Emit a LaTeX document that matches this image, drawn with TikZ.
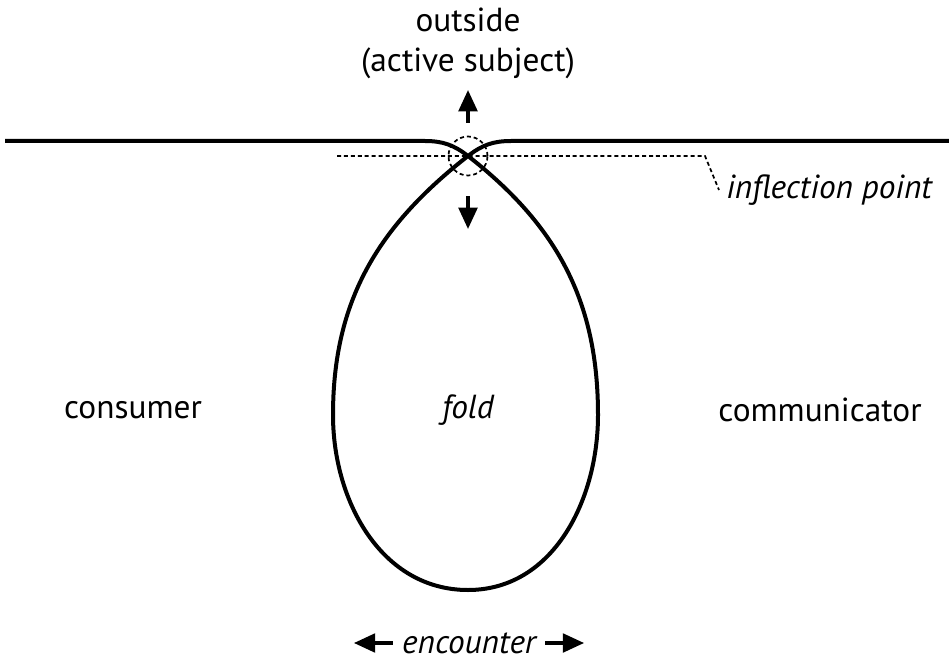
\documentclass[tikz,border=0pt]{standalone}
\usepackage{fontspec}
\setmainfont{PT Sans}
\usetikzlibrary{arrows.meta}
\tikzset{
  lbl/.style={inner sep=0pt, font=\fontsize{25}{30}\selectfont},
  fold line/.style={line width=3pt, line join=round},
  guide/.style={line width=1.3pt, dash pattern=on 3pt off 2.2pt},
  dirarrow/.style={line width=2.6pt, -{Stealth[length=16pt,width=14pt,inset=0pt]}}
}
\begin{document}
\begin{tikzpicture}[x=0.75pt,y=0.75pt]
				\useasboundingbox (0,0) rectangle (949,-663);
				\path
				(5,-141) coordinate (L)
				(949,-141) coordinate (R)
				(468,-156) coordinate (X)
				(337,-156) coordinate (G1)
				(705,-156) coordinate (G2)
				(719,-190) coordinate (G3)
				(468,-123) coordinate (U1)
				(468,-90) coordinate (U2)
				(468,-196) coordinate (D1)
				(468,-229) coordinate (D2);
				\node[lbl] (outside) at (468,-20) {outside};
				\node[lbl] (active) at (468,-63) {(active subject)};
				\node[lbl] (consumer) at (133,-410) {consumer};
				\node[lbl] (fold) at (468,-410) {\itshape fold};
				\node[lbl] (communicator) at (820,-410) {communicator};
				\node[lbl, anchor=west] (inflection) at (726,-190) {\itshape inflection point};
				\node[lbl] (encounter) at (469,-643) {\itshape encounter};
				% the fold
				\draw[fold line] (L) -- (425,-141) to[out=0,in=142] (X)
				to[out=-38,in=90] (598,-415) to[out=-90,in=0] (468,-590)
				to[out=180,in=-90] (333,-415) to[out=90,in=-142] (X)
				to[out=38,in=180] (511,-141) -- (R);
				\draw[guide] (X) circle (19.5);
				\draw[guide] (G1) -- (G2) -- (G3);
				% directions
				\draw[dirarrow] (U1) -- (U2);
				\draw[dirarrow] (D1) -- (D2);
				\draw[dirarrow] ([xshift=-7pt]encounter.west) -- ++(-29pt,0);
				\draw[dirarrow] ([xshift=7pt]encounter.east) -- ++(29pt,0);
\end{tikzpicture}
\end{document}
